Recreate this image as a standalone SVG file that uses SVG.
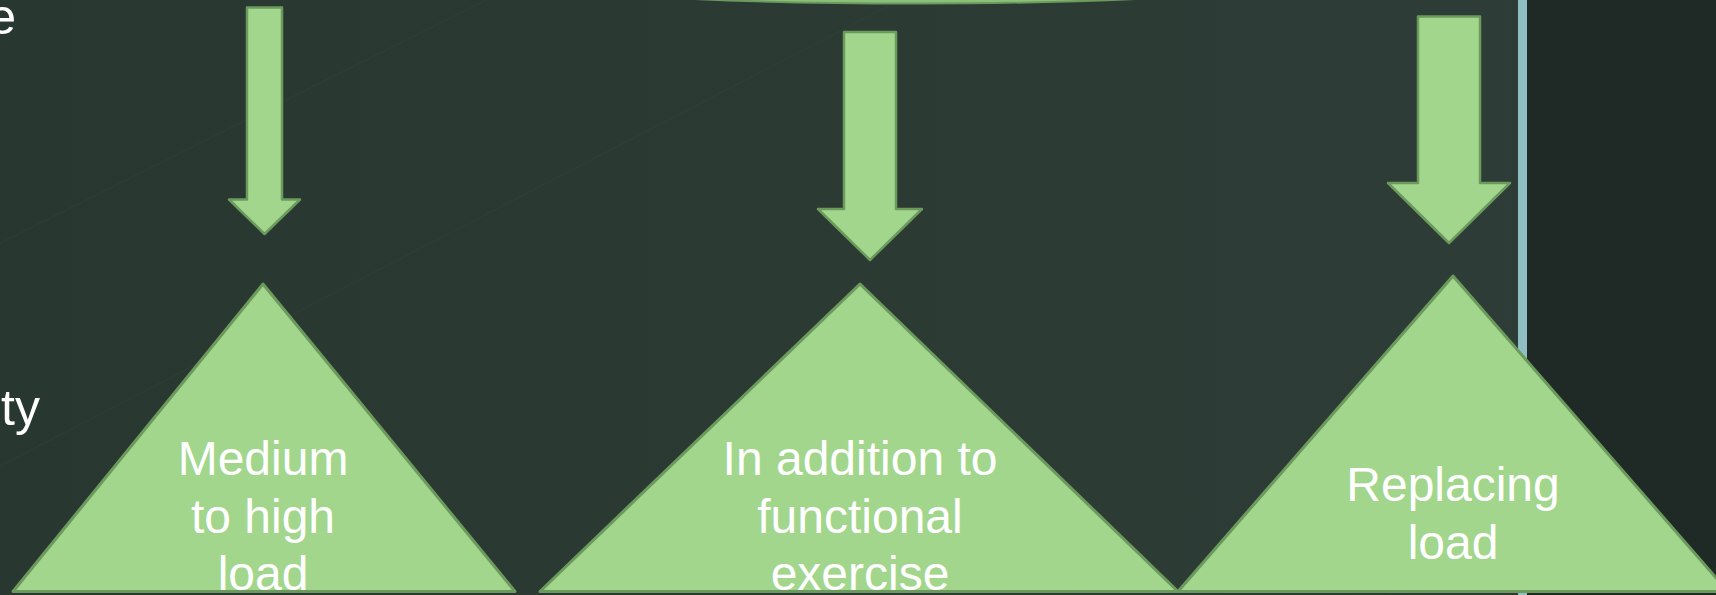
<svg xmlns="http://www.w3.org/2000/svg" width="1716" height="595" viewBox="0 0 1716 595">
  <defs>
    <linearGradient id="bg" x1="0" y1="0" x2="1" y2="0">
      <stop offset="0" stop-color="#283830"/>
      <stop offset="1" stop-color="#2e3d37"/>
    </linearGradient>
    <clipPath id="txtclip">
      <rect x="0" y="0" width="1716" height="591"/>
    </clipPath>
    <style>
      .tri { fill: #a2d68c; stroke: #6c9a5d; stroke-width: 3; stroke-linejoin: round; }
      .arr { fill: #a2d68c; stroke: #6c9a5d; stroke-width: 2.5; stroke-linejoin: round; }
      .lbl { font-family: "Liberation Sans", Arial, sans-serif; font-size: 48px; fill: #ffffff; text-anchor: middle; }
      .side { font-family: "Liberation Sans", Arial, sans-serif; font-size: 50px; fill: #ffffff; text-anchor: end; }
      .tex { stroke: #3a4b42; stroke-width: 1; fill: none; opacity: 0.3; }
    </style>
  </defs>

  <!-- background -->
  <rect x="0" y="0" width="1716" height="595" fill="url(#bg)"/>
  <line class="tex" x1="0" y1="243" x2="486" y2="0"/>
  <line class="tex" x1="0" y1="466" x2="900" y2="0"/>
  <rect x="1527" y="0" width="189" height="595" fill="#1f2a26"/>
  <rect x="1518" y="0" width="9" height="595" fill="#8fbfc2"/>

  <!-- top ellipse peeking in -->
  <ellipse cx="915" cy="-38" rx="480" ry="41.5" fill="#8cc07a" stroke="#6c9a5d" stroke-width="2"/>

  <!-- cut-off side text -->
  <text class="side" x="16" y="34">e</text>
  <text class="side" x="40" y="425">ty</text>

  <g id="connectors">
    <polygon class="arr" points="247,7.5 282,7.5 282,199.5 300,199.5 264.5,234 229,199.5 247,199.5"/>
    <polygon class="arr" points="844,32 896,32 896,209 922,209 870,260 818,209 844,209"/>
    <polygon class="arr" points="1418,16.5 1480,16.5 1480,183 1510,183 1449,243 1388,183 1418,183"/>
  </g>

  <g id="node-medium">
    <polygon class="tri" points="263,284 515,591.5 13,591.5"/>
    <g clip-path="url(#txtclip)">
      <text class="lbl" x="263" y="475">Medium</text>
      <text class="lbl" x="263" y="533">to high</text>
      <text class="lbl" x="263" y="590">load</text>
    </g>
  </g>

  <g id="node-addition">
    <polygon class="tri" points="860,284 1178,591.5 540,591.5"/>
    <g clip-path="url(#txtclip)">
      <text class="lbl" x="860" y="475">In addition to</text>
      <text class="lbl" x="860" y="533">functional</text>
      <text class="lbl" x="860" y="590">exercise</text>
    </g>
  </g>

  <g id="node-replacing">
    <polygon class="tri" points="1453,276 1728,591.5 1178,591.5"/>
    <text class="lbl" x="1453" y="501">Replacing</text>
    <text class="lbl" x="1453" y="559">load</text>
  </g>
</svg>
